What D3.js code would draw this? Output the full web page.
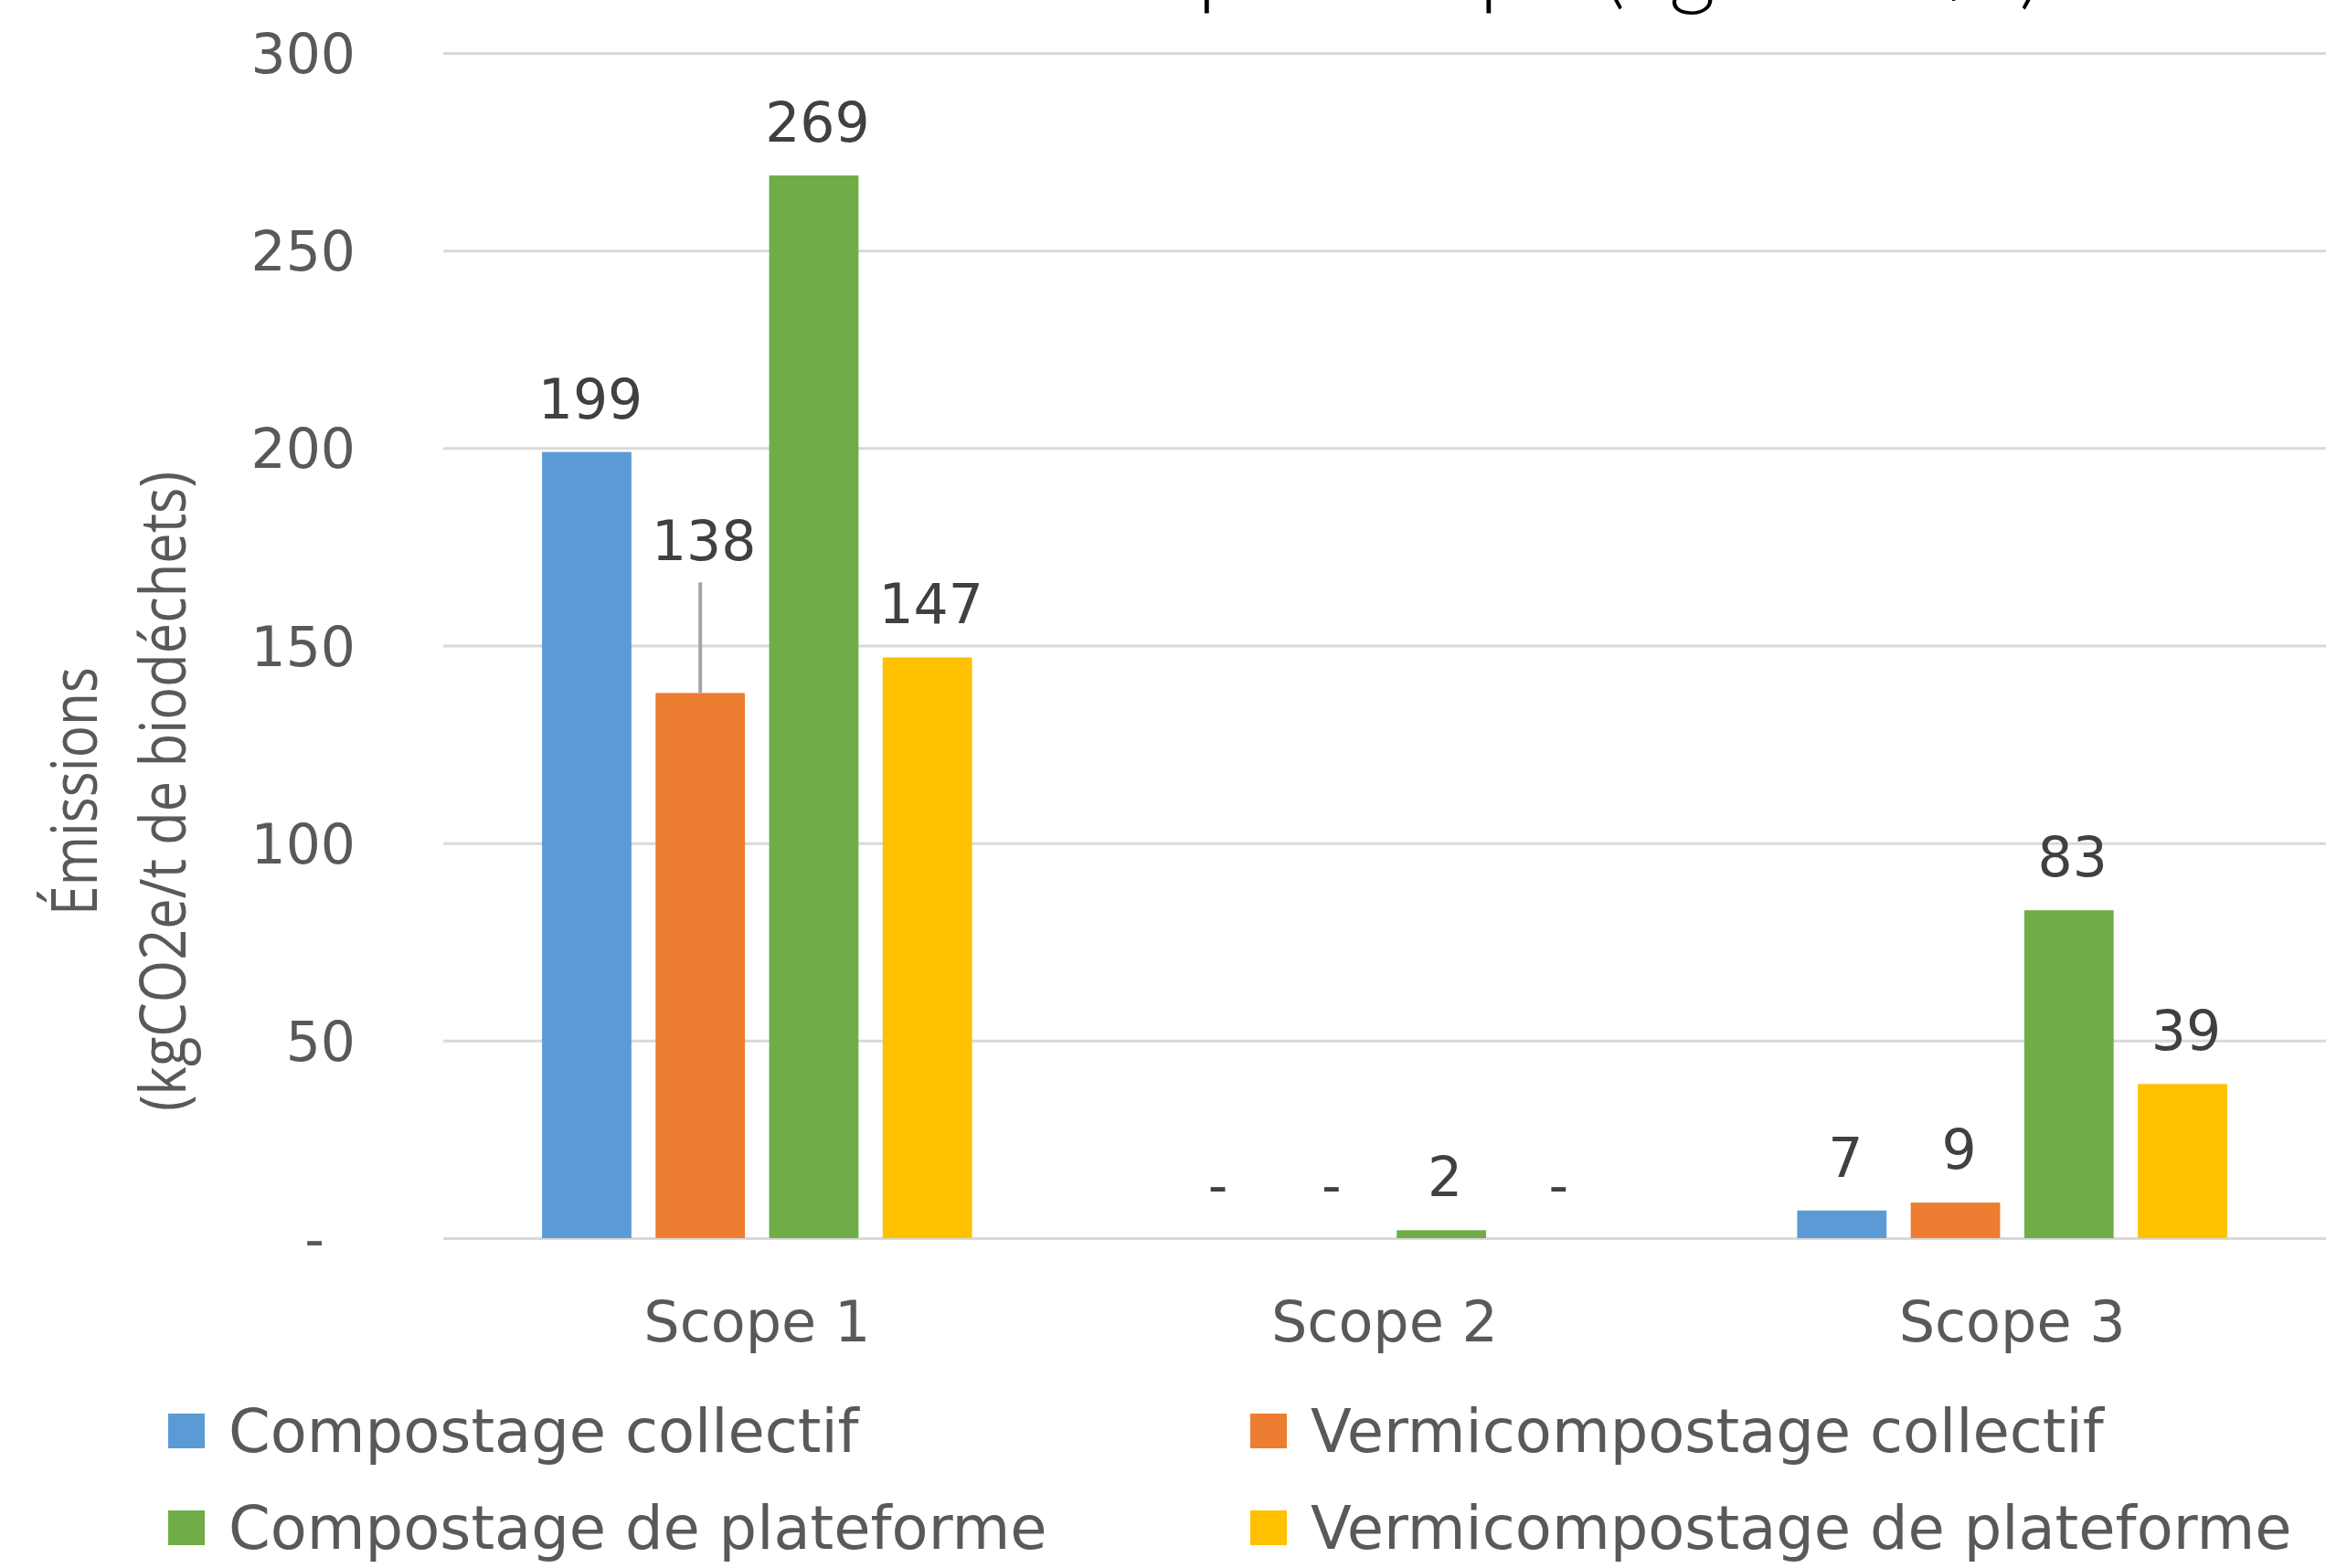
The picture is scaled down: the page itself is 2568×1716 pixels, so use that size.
<!DOCTYPE html>
<html>
<head>
<meta charset="utf-8">
<script src="https://cdn.jsdelivr.net/npm/d3@7"></script>
<style>
  html, body { margin: 0; padding: 0; background: #fff; overflow: hidden; }
  svg { display: block; }
</style>
</head>
<body>
<script>
// ---- Data ----
const categories = ["Scope 1", "Scope 2", "Scope 3"];
const seriesNames = ["Compostage collectif", "Vermicompostage collectif", "Compostage de plateforme", "Vermicompostage de plateforme"];
const compostageCollectif = [199, 0, 7];
const vermicompostageCollectif = [138, 0, 9];
const compostagePlateforme = [269, 2, 83];
const vermicompostagePlateforme = [147, 0, 39];
const seriesColors = ["#5B9BD5", "#ED7D31", "#70AD47", "#FFC000"];
const yTicks = [0, 50, 100, 150, 200, 250, 300];
const yTickLabels = ["-", "50", "100", "150", "200", "250", "300"];
// upper error bar end (Vermicompostage collectif, Scope 1)
const errorBars = [{ series: 1, cat: 0, upper: 166 }];
const yTitleLines = ["Émissions", "(kgCO2e/t de biodéchets)"];
const titleText = "Émissions de GES par scope (kgCO2e/t)";

const seriesValues = [compostageCollectif, vermicompostageCollectif, compostagePlateforme, vermicompostagePlateforme];

// ---- Layout ----
const W = 2568, H = 1716;
const plot = { left: 485, right: 2545, top: 58, bottom: 1355 };

const svg = d3.select("body").append("svg").attr("width", W).attr("height", H);

const x0 = d3.scaleBand().domain(categories).range([plot.left, plot.right]).paddingInner(0).paddingOuter(0);
const x1 = d3.scaleBand().domain(d3.range(seriesNames.length)).range([0, x0.bandwidth()]).paddingInner(0.213).paddingOuter(0.87);
const y = d3.scaleLinear().domain([0, 300]).range([plot.bottom, plot.top]);

// Title (cropped at the top of the picture: only descenders visible)
svg.append("text")
  .attr("x", 2235).attr("y", -3)
  .attr("text-anchor", "end")
  .attr("font-family", "Lato, 'DejaVu Sans', sans-serif")
  .attr("font-size", 100)
  .attr("font-weight", 300)
  .attr("fill", "#000")
  .text(titleText);

// Gridlines + y tick labels
const yAxis = d3.axisLeft(y).tickValues(yTicks).tickSize(-(plot.right - plot.left)).tickFormat((d, i) => yTickLabels[i]).tickPadding(96);
const gy = svg.append("g").attr("transform", `translate(${plot.left},0)`).call(yAxis);
gy.select(".domain").remove();
gy.selectAll(".tick line").attr("stroke", "#D9D9D9").attr("stroke-width", 3);
gy.selectAll(".tick text")
  .attr("font-family", "'DejaVu Sans', sans-serif")
  .attr("font-size", 60)
  .attr("fill", "#595959")
  .attr("dy", "0.36em")
  .attr("dx", d => d === 0 ? -34 : 0);

// Bars
const groups = svg.append("g").selectAll("g").data(categories).join("g")
  .attr("transform", d => `translate(${x0(d)},0)`);

groups.selectAll("rect")
  .data((c, ci) => seriesValues.map((vals, si) => ({ si, ci, v: vals[ci] })))
  .join("rect")
  .attr("x", d => x1(d.si))
  .attr("width", x1.bandwidth())
  .attr("y", d => y(d.v))
  .attr("height", d => y(0) - y(d.v))
  .attr("fill", d => seriesColors[d.si]);

// Error bars
svg.append("g").selectAll("line").data(errorBars).join("line")
  .attr("x1", d => x0(categories[d.cat]) + x1(d.series) + x1.bandwidth() / 2)
  .attr("x2", d => x0(categories[d.cat]) + x1(d.series) + x1.bandwidth() / 2)
  .attr("y1", d => y(seriesValues[d.series][d.cat]))
  .attr("y2", d => y(d.upper))
  .attr("stroke", "#A5A5A5").attr("stroke-width", 4);

// Data labels
groups.selectAll("text.lbl")
  .data((c, ci) => seriesValues.map((vals, si) => ({ si, ci, v: vals[ci] })))
  .join("text")
  .attr("class", "lbl")
  .attr("x", d => x1(d.si) + x1.bandwidth() / 2 + 4)
  .attr("y", d => {
    const eb = errorBars.find(e => e.series === d.si && e.cat === d.ci);
    return eb ? y(eb.upper) - 24 : y(d.v) - 37;
  })
  .attr("text-anchor", "middle")
  .attr("font-family", "'DejaVu Sans', sans-serif")
  .attr("font-size", 60)
  .attr("fill", "#404040")
  .text(d => d.v === 0 ? "-" : d3.format("d")(d.v));

// Category axis labels
const xAxis = d3.axisBottom(x0).tickSize(0).tickPadding(0);
const gx = svg.append("g").attr("transform", `translate(0,${plot.bottom})`).call(xAxis);
gx.select(".domain").remove();
gx.selectAll(".tick text")
  .attr("y", 113).attr("dy", 0)
  .attr("font-family", "'DejaVu Sans', sans-serif")
  .attr("font-size", 62)
  .attr("fill", "#595959");

// Y axis title
yTitleLines.forEach((t, i) => {
  const lens = [272, 700];
  const xs = [106, 203];
  svg.append("text")
    .attr("transform", `translate(${xs[i]},866) rotate(-90)`)
    .attr("text-anchor", "middle")
    .attr("font-family", "'Open Sans', sans-serif")
    .attr("font-size", 70)
    .attr("fill", "#595959")
    .attr("textLength", lens[i])
    .attr("lengthAdjust", "spacingAndGlyphs")
    .text(t);
});

// Legend
const legendPos = [[184, 1547], [1368, 1547], [184, 1653], [1368, 1653]];
const legend = svg.append("g").selectAll("g").data(seriesNames).join("g")
  .attr("transform", (d, i) => `translate(${legendPos[i][0]},${legendPos[i][1]})`);
legend.append("rect").attr("width", 40).attr("height", 38).attr("fill", (d, i) => seriesColors[i]);
legend.append("text")
  .attr("x", 66).attr("y", 42)
  .attr("font-family", "'DejaVu Sans', sans-serif")
  .attr("font-size", 65.5)
  .attr("fill", "#595959")
  .text(d => d);
</script>
</body>
</html>
